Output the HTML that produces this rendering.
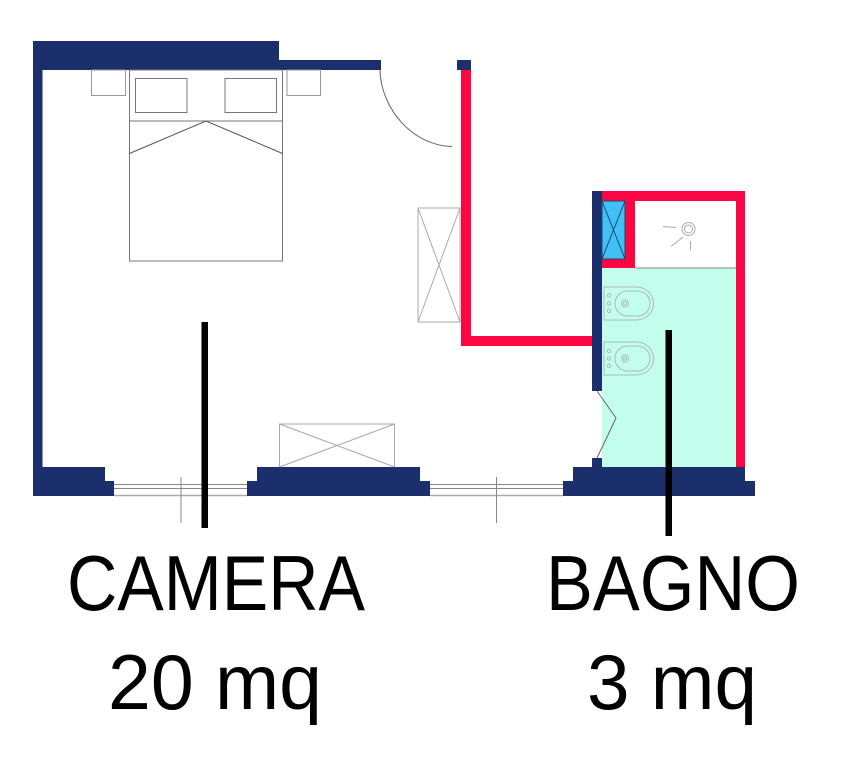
<!DOCTYPE html>
<html>
<head>
<meta charset="utf-8">
<title>Camera e bagno</title>
<style>
html,body{margin:0;padding:0;background:#fff;width:859px;height:768px;overflow:hidden}
svg{display:block}
text{font-family:"Liberation Sans",sans-serif;font-size:78px;fill:#000}
</style>
</head>
<body>
<svg width="859" height="768" viewBox="0 0 859 768" xmlns="http://www.w3.org/2000/svg">
<rect width="859" height="768" fill="#fff"/>

<!-- fills -->
<rect x="602" y="268" width="134" height="199" fill="#c3fdec"/>
<rect x="602" y="201" width="23" height="58" fill="#40c0f6"/>

<!-- red walls -->
<g fill="#fb0542">
<path d="M461 70H471V336H592V346H461Z"/>
<path d="M602 191H745V467H736V201H635V268H602V259H625V201H602Z"/>
</g>

<!-- navy walls -->
<g fill="#1a2f6b">
<path d="M33 41H279V60H381V70H42.500V467H105V481H114V496H33Z"/>
<rect x="457" y="60" width="14" height="10"/>
<rect x="592" y="191" width="10" height="200"/>
<rect x="592" y="458" width="10" height="10"/>
<path d="M257 467H420V481H430V496H247V481H257Z"/>
<path d="M573 467H745V481H755V496H563V481H573Z"/>
</g>

<!-- bed & furniture -->
<g fill="none" stroke="#777" stroke-width="1">
<rect x="91.500" y="70" width="34" height="25.500" stroke="#999"/>
<rect x="287" y="70" width="33.500" height="25.500" stroke="#999"/>
<rect x="129.500" y="70" width="153" height="191"/>
<path d="M129.500 121H282.500"/>
<rect x="135.500" y="78.500" width="51.500" height="34"/>
<rect x="225" y="78.500" width="51.500" height="34"/>
<path d="M129.500 153.500L206 121L282.500 153.500" stroke="#555"/>
</g>

<!-- wardrobes -->
<g fill="none" stroke="#aaa" stroke-width="1">
<path d="M418 208H460V322H418Z M418 208L460 322 M460 208L418 322"/>
<path d="M279.500 467V424H394.500V467 M279.500 424L394.500 467 M394.500 424L279.500 467"/>
</g>

<!-- door swings -->
<g fill="none" stroke="#666" stroke-width="1">
<path d="M380 70C381 110 414 146 452 146.500"/>
<path d="M597 391L616 418L597 458"/>
</g>

<!-- windows -->
<g fill="none" stroke="#888" stroke-width="1">
<path d="M114 484.500H247 M114 488.500H247"/>
<path d="M430 484.500H563 M430 488.500H563"/>
<path d="M114 495.500H247 M430 495.500H563" stroke="#aaa" stroke-width="1.500"/>
<path d="M181 477V523 M496.500 477V523"/>
</g>

<!-- shower / washbasin box crosses -->
<g fill="none" stroke="#1e4a6b" stroke-width="1">
<path d="M602 201H625V259H602Z M602 201L625 259 M625 201L602 259"/>
</g>
<rect x="635" y="267.500" width="101" height="1" fill="#888"/>
<g fill="none" stroke="#aaa" stroke-width="1">
<circle cx="688.500" cy="229" r="6.500"/>
<circle cx="688.500" cy="229" r="4"/>
<path d="M663 226.500L676 227.500 M671 246.500L683 237 M690.500 241V250.500"/>
</g>

<!-- fixtures -->
<g fill="none" stroke="#a9bdb8" stroke-width="1">
<path d="M604 287H636C646 287 653.500 294 653.500 303.500C653.500 313 646 320 636 320H604Z"/>
<rect x="615" y="291" width="35" height="25" rx="12.500"/>
<circle cx="625" cy="303.500" r="3.500"/>
<circle cx="625" cy="303.500" r="1.500"/>
<circle cx="609" cy="295.500" r="1.700"/>
<circle cx="609" cy="303.500" r="1.700"/>
<circle cx="609" cy="311" r="1.700"/>
<path d="M604 342H636C646 342 653.500 349 653.500 358.500C653.500 368 646 375 636 375H604Z"/>
<rect x="615" y="346" width="35" height="25" rx="12.500"/>
<circle cx="625" cy="358.500" r="3.500"/>
<circle cx="625" cy="358.500" r="1.500"/>
<circle cx="609" cy="351" r="1.700"/>
<circle cx="609" cy="358.500" r="1.700"/>
<circle cx="609" cy="366" r="1.700"/>
</g>

<!-- black leader lines -->
<rect x="201.500" y="322" width="6.500" height="206" fill="#000"/>
<rect x="665.500" y="330" width="6.500" height="206" fill="#000"/>

<!-- labels -->
<text x="67" y="610" textLength="298" lengthAdjust="spacingAndGlyphs">CAMERA</text>
<text x="108" y="709" textLength="214" lengthAdjust="spacingAndGlyphs">20 mq</text>
<text x="546" y="610" textLength="254" lengthAdjust="spacingAndGlyphs">BAGNO</text>
<text x="587" y="709" textLength="170" lengthAdjust="spacingAndGlyphs">3 mq</text>
</svg>
</body>
</html>
